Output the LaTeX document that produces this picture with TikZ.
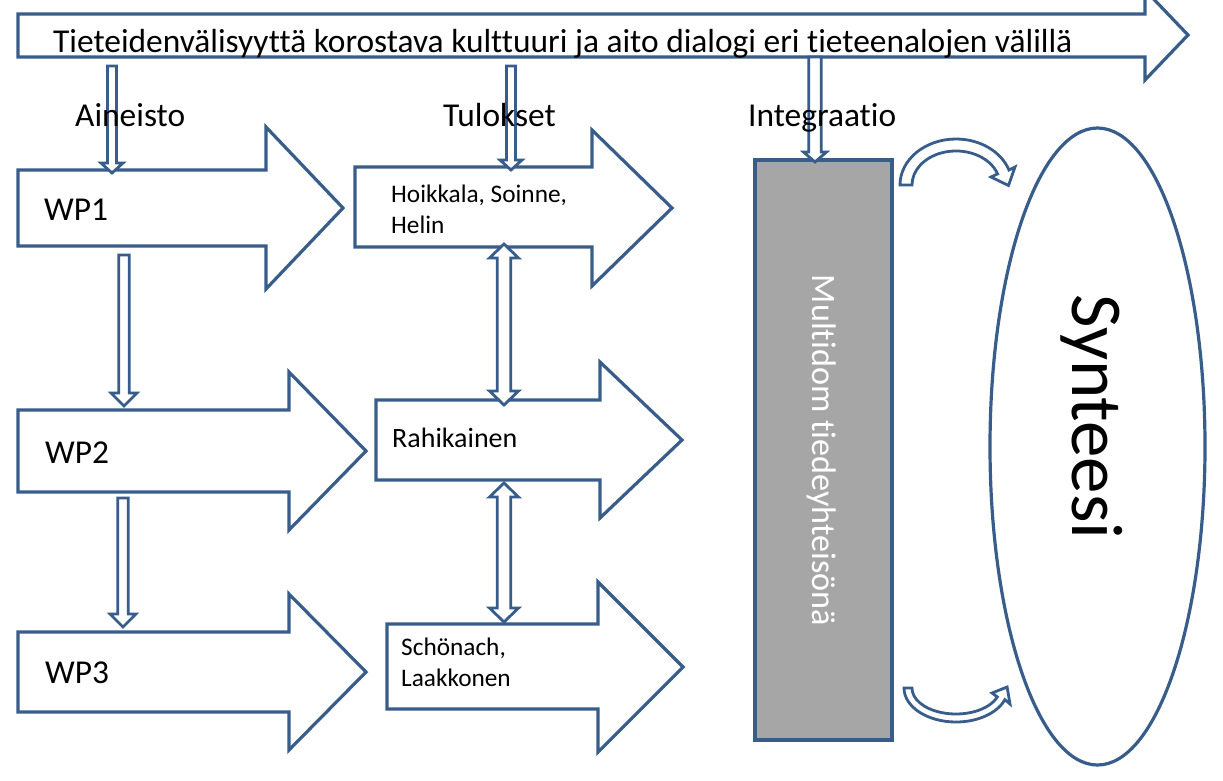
\documentclass[tikz,border=0pt]{standalone}
\usepackage{fontspec}
\setmainfont{Carlito}[Ligatures=NoCommon]
\definecolor{ob}{RGB}{56,93,138}
\definecolor{gfill}{RGB}{166,166,166}
\newcommand{\dnArrow}[6]{%
  \draw[hol] (#1-#4,#2) -- (#1+#4,#2) -- (#1+#4,#3-#6) -- (#1+#5,#3-#6) -- (#1,#3) -- (#1-#5,#3-#6) -- (#1-#4,#3-#6) -- cycle;}
\newcommand{\dblArrow}[6]{%
  \draw[hol] (#1,#2) -- (#1+#5,#2+#6) -- (#1+#4,#2+#6) -- (#1+#4,#3-#6) -- (#1+#5,#3-#6) -- (#1,#3) -- (#1-#5,#3-#6) -- (#1-#4,#3-#6) -- (#1-#4,#2+#6) -- (#1-#5,#2+#6) -- cycle;}
\begin{document}
\begin{tikzpicture}[x=1pt,y=-1pt,
  blk/.style={draw=ob,line width=3.2pt,fill=white,line join=miter},
  hol/.style={draw=ob,line width=2.8pt,fill=white,line join=miter},
  lbl/.style={anchor=base west,inner sep=0pt,font=\fontsize{33.4}{40}\selectfont},
  sml/.style={anchor=base west,inner sep=0pt,font=\fontsize{25.3}{31}\selectfont}]
\useasboundingbox (0,0) rectangle (1223,780);
\clip (0,0) rectangle (1223,780);
\fill[white] (0,0) rectangle (1223,780);
% top arrow
\draw[blk] (18,14) -- (1145,14) -- (1145,-10) -- (1188,35) -- (1145,80) -- (1145,57) -- (18,57) -- cycle;
% WP arrows
\draw[blk] (18,170) -- (266,170) -- (266,127) -- (343,208) -- (266,289) -- (266,246) -- (18,246) -- cycle;
\draw[blk] (18,410) -- (289,410) -- (289,372) -- (366,451) -- (289,530) -- (289,492) -- (18,492) -- cycle;
\draw[blk] (18,632) -- (289,632) -- (289,594) -- (366,672) -- (289,750) -- (289,712) -- (18,712) -- cycle;
% result arrows
\draw[blk] (355,167) -- (592,167) -- (592,130) -- (672,208) -- (592,286) -- (592,247) -- (355,247) -- cycle;
\draw[blk] (376,400) -- (600,400) -- (600,362) -- (682,440) -- (600,518) -- (600,480) -- (376,480) -- cycle;
\draw[blk] (387,624) -- (598,624) -- (598,582) -- (683,667) -- (598,752) -- (598,709) -- (387,709) -- cycle;
% grey box
\draw[blk,fill=gfill] (755,160) rectangle (892,740);
% ellipse
\draw[draw=ob,line width=3.2pt] (1097.5,446.5) ellipse[x radius=107.5,y radius=318.5];
% curved arrows
\draw[hol] (900,185) arc[start angle=180,end angle=341,x radius=56,y radius=46] -- (1015,167) -- (1008.5,185.5) -- (991,177) -- (997.6,173.9) arc[start angle=341,end angle=180,x radius=44,y radius=34] -- cycle;
\draw[hol] (904,688) arc[start angle=180,end angle=20,x radius=52,y radius=34] -- (1010,704) -- (1007.1,687) -- (992,693) -- (997.3,696.9) arc[start angle=20,end angle=180,x radius=44,y radius=26] -- cycle;
% hollow arrows
\dnArrow{112}{66}{173}{4.5}{11}{10}
\dnArrow{511}{66}{170}{4.5}{11}{10}
\dnArrow{815}{57}{162}{6.3}{11.5}{10}
\dnArrow{124}{255}{406}{5.3}{13}{13}
\dnArrow{123}{498}{627}{5.3}{13}{13}
\dblArrow{504}{244}{405}{6.8}{14.5}{14}
\dblArrow{504}{483}{622}{6.8}{14.5}{14}
% texts
\node[lbl] (ttop) at (53,52) {Tieteidenvälisyyttä korostava kulttuuri ja aito dialogi eri tieteenalojen välillä};
\node[lbl] (ain) at (75,126) {Aineisto};
\node[lbl] (tul) at (443,126) {Tulokset};
\node[lbl] (integ) at (748,126) {Integraatio};
\node[lbl] (wp1) at (44,220) {WP1};
\node[lbl] (wp2) at (45,463) {WP2};
\node[lbl] (wp3) at (45,683) {WP3};
\node[sml] (r1a) at (391,202) {Hoikkala, Soinne,};
\node[sml] (r1b) at (391,233) {Helin};
\node[lbl,font=\fontsize{28}{34}\selectfont] (r2) at (392,447) {Rahikainen};
\node[sml] (r3a) at (401,655) {Schönach,};
\node[sml] (r3b) at (401,686) {Laakkonen};
\node[anchor=base,inner sep=0pt,rotate=-90,text=white,font=\fontsize{34.2}{40}\selectfont] (mul) at (812,450.5) {Multidom tiedeyhteisönä};
\node[anchor=base,inner sep=0pt,rotate=-90,font=\fontsize{73}{80}\selectfont] (syn) at (1072,417) {Synteesi};
\end{tikzpicture}
\end{document}
